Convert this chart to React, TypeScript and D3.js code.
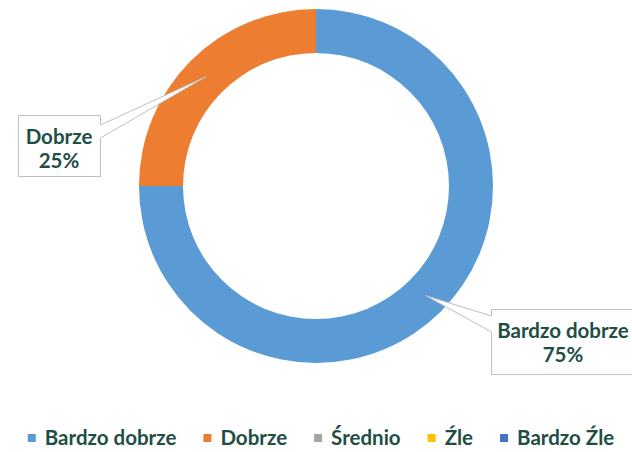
import React, { useEffect, useRef } from "react";
import * as d3 from "d3";

const categories = ["Bardzo dobrze", "Dobrze", "Średnio", "Źle", "Bardzo Źle"];
const values = [75, 25, 0, 0, 0];
const colors = ["#5b9bd5", "#ed7d31", "#a5a5a5", "#ffc000", "#4472c4"];

const W = 632;
const H = 452;
const TEXT = "#1f4e45";
const FONT = "Lato, 'Open Sans', sans-serif";
const FS = 20.5;

export default function App() {
  const ref = useRef<SVGSVGElement>(null);

  useEffect(() => {
    const svg = d3.select(ref.current);
    svg.selectAll("*").remove();

    const cx = 316, cy = 186, outerR = 177, innerR = 133;
    const total = d3.sum(values);
    const pie = d3.pie<number>().sort(null).value((d) => d);
    const arcs = pie(values);
    const arc = d3.arc<d3.PieArcDatum<number>>().innerRadius(innerR).outerRadius(outerR);
    const midArc = d3.arc<d3.PieArcDatum<number>>().innerRadius((innerR + outerR) / 2).outerRadius((innerR + outerR) / 2);

    const g = svg.append("g").attr("transform", `translate(${cx},${cy})`);
    g.selectAll("path.slice")
      .data(arcs.filter((a) => a.value > 0))
      .join("path")
      .attr("class", "slice")
      .attr("d", arc as any)
      .attr("fill", (d) => colors[d.index]);

    // callout labels
    const boxes: Record<number, { x0: number; y0: number; x1: number; y1: number; side: "left" | "right"; w0: number; w1: number; mx: number }> = {
      0: { x0: 491.5, y0: 309.5, x1: 635, y1: 374.5, side: "left", w0: 316, w1: 332, mx: 563 },
      1: { x0: 18.5, y0: 115.5, x1: 100.5, y1: 176.5, side: "right", w0: 125, w1: 138, mx: 59 },
    };

    arcs.forEach((a) => {
      const b = boxes[a.index];
      if (!b || a.value <= 0) return;
      const [tx, ty] = midArc.centroid(a);
      const tipX = cx + tx, tipY = cy + ty;
      let p: string;
      if (b.side === "right") {
        p = `M${b.x0},${b.y0}H${b.x1}V${b.w0}L${tipX},${tipY}L${b.x1},${b.w1}V${b.y1}H${b.x0}Z`;
      } else {
        p = `M${b.x0},${b.y0}H${b.x1}V${b.y1}H${b.x0}V${b.w1}L${tipX},${tipY}L${b.x0},${b.w0}Z`;
      }
      svg.append("path").attr("d", p).attr("fill", "#ffffff").attr("stroke", "#bfbfbf").attr("stroke-width", 1);
      const pct = d3.format(".0%")(a.value / total);
      const t = svg.append("text")
        .attr("text-anchor", "middle")
        .attr("font-family", FONT)
        .attr("font-weight", "bold")
        .attr("font-size", FS)
        .attr("fill", TEXT);
      t.append("tspan").attr("x", b.mx).attr("y", b.y0 + 28).text(categories[a.index]);
      t.append("tspan").attr("x", b.mx).attr("y", b.y0 + 52).text(pct);
    });

    // legend
    const lg = svg.append("g");
    const items = lg.selectAll("g.item").data(categories).join("g").attr("class", "item");
    items.append("rect").attr("width", 8).attr("height", 8).attr("y", -4).attr("fill", (_, i) => colors[i]);
    items.append("text")
      .attr("x", 17)
      .attr("y", 0)
      .attr("dy", "0.35em")
      .attr("font-family", FONT)
      .attr("font-weight", "bold")
      .attr("font-size", FS)
      .attr("fill", TEXT)
      .text((d) => d);
    const gap = 27;
    let x = 0;
    const xs: number[] = [];
    items.each(function () {
      const tw = (d3.select(this).select("text").node() as SVGTextElement).getComputedTextLength();
      xs.push(x);
      x += 17 + tw + gap;
    });
    const totalW = x - gap;
    const startX = 321 - totalW / 2;
    items.attr("transform", (_, i) => `translate(${startX + xs[i]},438)`);
  }, []);

  return (
    <svg
      ref={ref}
      width={W}
      height={H}
      style={{ position: "absolute", left: 0, top: 0, background: "#ffffff" }}
    />
  );
}
